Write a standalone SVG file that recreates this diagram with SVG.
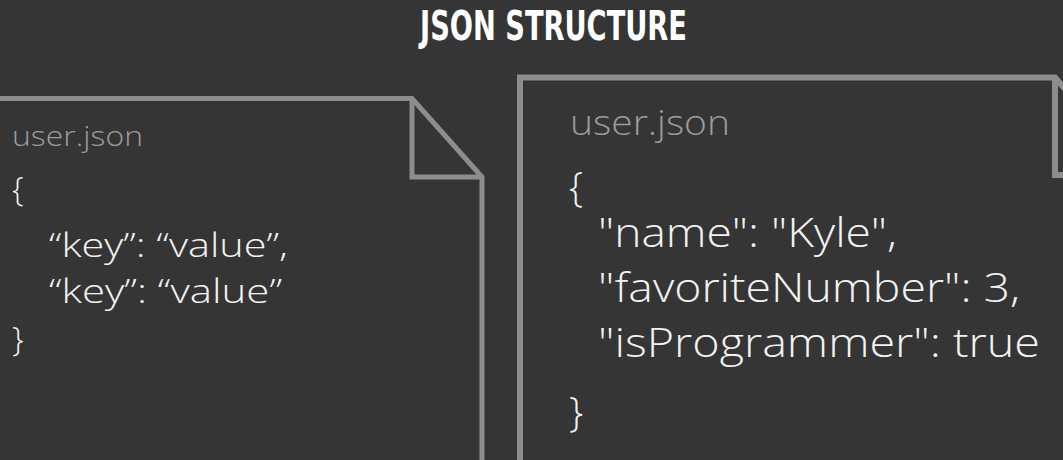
<svg xmlns="http://www.w3.org/2000/svg" width="1063" height="460" viewBox="0 0 1063 460">
<style>
.bg{fill:#353535}
.doc{fill:none;stroke:#8d8d8d;stroke-linejoin:miter}
.fname{font-family:"Open Sans","Noto Sans","Liberation Sans",sans-serif;font-weight:300;fill:#9c9c9c}
.code{font-family:"Open Sans","Noto Sans","Liberation Sans",sans-serif;font-weight:300;fill:#f2f2f2}
.title{font-family:"Liberation Sans Narrow","DejaVu Sans Condensed","Liberation Sans",sans-serif;font-weight:bold;font-stretch:condensed;fill:#ffffff}
</style>
<rect class="bg" x="0" y="0" width="1063" height="460"/>
<g id="title">
<text class="title" x="420" y="40" font-size="41" textLength="267" lengthAdjust="spacingAndGlyphs">JSON STRUCTURE</text>
</g>
<g id="doc-left">
<path class="doc" stroke-width="5" d="M -10 98.5 H 412 L 482 177 V 470"/>
<path class="doc" stroke-width="5" d="M 412 98.5 V 177 H 482"/>
<text class="fname" x="12" y="146" font-size="28" textLength="131" lengthAdjust="spacingAndGlyphs">user.json</text>
<text class="code" x="12" y="201" font-size="33">{</text>
<text class="code" x="49" y="257" font-size="33" textLength="239" lengthAdjust="spacingAndGlyphs">“key”: “value”,</text>
<text class="code" x="49" y="303" font-size="33" textLength="233" lengthAdjust="spacingAndGlyphs">“key”: “value”</text>
<text class="code" x="12" y="351" font-size="33">}</text>
</g>
<g id="doc-right">
<path class="doc" stroke-width="6" d="M 520 470 V 77.5 H 1055 L 1140 175"/>
<path class="doc" stroke-width="6" d="M 1055 77.5 V 175 H 1070"/>
<text class="fname" x="570" y="135" font-size="35" textLength="160" lengthAdjust="spacingAndGlyphs">user.json</text>
<text class="code" x="569" y="201" font-size="40">{</text>
<text class="code" x="598" y="247" font-size="40" textLength="299" lengthAdjust="spacingAndGlyphs">"name": "Kyle",</text>
<text class="code" x="598" y="302" font-size="40" textLength="422" lengthAdjust="spacingAndGlyphs">"favoriteNumber": 3,</text>
<text class="code" x="598" y="357" font-size="40" textLength="442" lengthAdjust="spacingAndGlyphs">"isProgrammer": true</text>
<text class="code" x="569" y="426" font-size="40">}</text>
</g>
<g id="connectors"/>
</svg>
